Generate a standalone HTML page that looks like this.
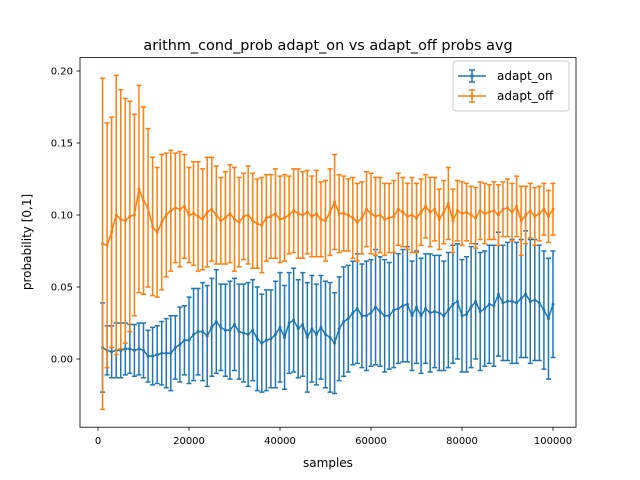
<!DOCTYPE html>
<html><head><meta charset="utf-8"><style>
body{margin:0;background:#fff;}
svg{display:block;font-family:"DejaVu Sans","Liberation Sans",sans-serif;}
</style></head><body>
<svg id="chart" width="640" height="480" viewBox="0 0 640 480">
<rect width="640" height="480" fill="#fff"/>
<text x="328" y="50" font-size="14.4" text-anchor="middle">arithm_cond_prob adapt_on vs adapt_off probs avg</text>
<g id="plot"></g>
<g id="axes"></g>
<text x="328" y="467" font-size="12" text-anchor="middle">samples</text>
<text transform="translate(31,242) rotate(-90)" font-size="12" text-anchor="middle">probability [0,1]</text>
<g>
<rect x="453" y="61" width="116" height="50" rx="3" fill="#fff" fill-opacity="0.8" stroke="#ccc"/>
<g>
<line x1="458" y1="76" x2="486" y2="76" stroke="#1f77b4" stroke-width="1.5"/>
<line x1="472" y1="70" x2="472" y2="82" stroke="#1f77b4" stroke-width="1.5"/>
<line x1="469" y1="70" x2="475" y2="70" stroke="#1f77b4" stroke-width="1.5"/>
<line x1="469" y1="82" x2="475" y2="82" stroke="#1f77b4" stroke-width="1.5"/>
<circle cx="472" cy="76" r="1.7" fill="#1f77b4"/>
<text x="497" y="80" font-size="12">adapt_on</text></g>
<g>
<line x1="458" y1="96" x2="486" y2="96" stroke="#ff7f0e" stroke-width="1.5"/>
<line x1="472" y1="90" x2="472" y2="102" stroke="#ff7f0e" stroke-width="1.5"/>
<line x1="469" y1="90" x2="475" y2="90" stroke="#ff7f0e" stroke-width="1.5"/>
<line x1="469" y1="102" x2="475" y2="102" stroke="#ff7f0e" stroke-width="1.5"/>
<circle cx="472" cy="96" r="1.7" fill="#ff7f0e"/>
<text x="497" y="100" font-size="12">adapt_off</text></g>
</g>
</svg>
<script>
const offMean=[0.080,0.079,0.088,0.100,0.097,0.096,0.099,0.100,0.118,0.110,0.105,0.092,0.088,0.095,0.100,0.103,0.105,0.104,0.106,0.100,
0.101,0.099,0.097,0.102,0.104,0.100,0.096,0.098,0.101,0.097,0.095,0.099,0.100,0.096,0.094,0.093,0.098,0.099,0.101,0.097,
0.098,0.100,0.103,0.101,0.100,0.102,0.099,0.101,0.097,0.096,0.102,0.109,0.101,0.101,0.100,0.098,0.095,0.098,0.104,0.101,
0.099,0.100,0.097,0.098,0.099,0.104,0.102,0.099,0.100,0.098,0.102,0.106,0.102,0.104,0.097,0.102,0.108,0.096,0.103,0.101,
0.102,0.100,0.098,0.103,0.101,0.102,0.103,0.100,0.104,0.105,0.102,0.106,0.096,0.100,0.103,0.099,0.101,0.104,0.099,0.104];
const offErr=[0.115,0.085,0.080,0.097,0.090,0.085,0.080,0.070,0.072,0.065,0.055,0.048,0.045,0.047,0.043,0.042,0.038,0.040,0.036,0.033,
0.036,0.038,0.035,0.038,0.036,0.034,0.030,0.032,0.034,0.036,0.031,0.030,0.034,0.033,0.031,0.033,0.030,0.029,0.031,0.030,
0.030,0.027,0.029,0.031,0.030,0.029,0.028,0.030,0.026,0.028,0.030,0.033,0.027,0.026,0.025,0.028,0.027,0.025,0.026,0.028,
0.027,0.026,0.025,0.024,0.025,0.025,0.024,0.023,0.026,0.024,0.023,0.022,0.024,0.022,0.021,0.022,0.025,0.022,0.021,0.022,
0.020,0.020,0.021,0.020,0.021,0.019,0.020,0.021,0.019,0.020,0.020,0.021,0.024,0.020,0.019,0.020,0.019,0.018,0.018,0.018];
const onMean=[0.008,0.006,0.005,0.006,0.006,0.007,0.007,0.006,0.007,0.006,0.002,0.002,0.003,0.004,0.004,0.004,0.008,0.010,0.013,0.013,
0.017,0.019,0.019,0.016,0.022,0.026,0.022,0.020,0.020,0.024,0.019,0.018,0.017,0.020,0.014,0.011,0.013,0.014,0.017,0.022,
0.015,0.025,0.027,0.021,0.024,0.015,0.021,0.017,0.022,0.017,0.015,0.011,0.021,0.026,0.028,0.032,0.035,0.030,0.030,0.032,
0.036,0.033,0.030,0.030,0.034,0.035,0.037,0.038,0.030,0.036,0.030,0.035,0.032,0.033,0.032,0.030,0.034,0.038,0.040,0.030,
0.031,0.036,0.040,0.033,0.035,0.038,0.037,0.045,0.039,0.040,0.040,0.039,0.042,0.045,0.040,0.041,0.039,0.034,0.028,0.038];
const onErr=[0.031,0.017,0.018,0.019,0.019,0.018,0.017,0.018,0.018,0.019,0.018,0.020,0.020,0.022,0.024,0.026,0.022,0.026,0.024,0.030,
0.032,0.030,0.034,0.035,0.034,0.036,0.030,0.032,0.034,0.032,0.033,0.034,0.036,0.035,0.036,0.034,0.035,0.034,0.037,0.038,
0.036,0.035,0.036,0.034,0.036,0.038,0.037,0.035,0.036,0.037,0.038,0.035,0.036,0.038,0.037,0.036,0.038,0.036,0.038,0.037,
0.040,0.038,0.039,0.037,0.040,0.038,0.039,0.040,0.038,0.039,0.040,0.038,0.041,0.039,0.040,0.038,0.040,0.041,0.040,0.039,
0.040,0.042,0.040,0.041,0.040,0.041,0.042,0.043,0.040,0.041,0.043,0.042,0.041,0.044,0.043,0.042,0.040,0.041,0.042,0.037];
const samples=onMean.map((_,i)=>(i+1)*1000);
const xTicks=[0,20000,40000,60000,80000,100000];
const yTicks=[0.00,0.05,0.10,0.15,0.20];

const NS="http://www.w3.org/2000/svg";
const L=80,R=576,T=57.6,B=427.2;
const xs=v=>98+v*(455/100000);
const ys=v=>359-v*1440;
function mk(tag,attrs,parent){const e=document.createElementNS(NS,tag);for(const k in attrs)e.setAttribute(k,attrs[k]);parent.appendChild(e);return e;}
const plot=document.getElementById('plot'),axes=document.getElementById('axes');

function series(mean,err,color,name){
  const g=mk('g',{},plot);
  
  
  mean.forEach((m,i)=>{
    const x=xs(samples[i]),y1=ys(m-err[i]),y2=ys(m+err[i]);
    const b=mk('path',{d:`M${x},${y1}V${y2}M${x-2.5},${y1}H${x+2.5}M${x-2.5},${y2}H${x+2.5}`,stroke:color,'stroke-width':1.5,fill:'none'},g);
    
    
  });
  const ln=mk('polyline',{points:mean.map((m,i)=>xs(samples[i])+','+ys(m)).join(' '),stroke:color,'stroke-width':1.5,fill:'none'},g);
  
  
  mean.forEach((m,i)=>{
    const c=mk('circle',{cx:xs(samples[i]),cy:ys(m),r:1.5,fill:color},g);
    
    
  });
}
series(onMean,onErr,'#1f77b4','adapt-on');
series(offMean,offErr,'#ff7f0e','adapt-off');

const frame=mk('rect',{x:L,y:T,width:R-L,height:B-T,fill:'none',stroke:'#000','stroke-width':0.8},axes);


xTicks.forEach(t=>{
  const x=xs(t);
  const tk=mk('line',{x1:x,y1:B,x2:x,y2:B+3.5,stroke:'#000','stroke-width':0.8},axes);
  
  
  const tx=mk('text',{x:x,y:B+17,'font-size':10,'text-anchor':'middle'},axes);
  tx.textContent=String(t);
  
  
});
yTicks.forEach(t=>{
  const y=ys(t);
  const tk=mk('line',{x1:L-3.5,y1:y,x2:L,y2:y,stroke:'#000','stroke-width':0.8},axes);
  
  
  const tx=mk('text',{x:L-7,y:y+3.5,'font-size':10,'text-anchor':'end'},axes);
  tx.textContent=t.toFixed(2);
  
  
});
</script>
</body></html>
